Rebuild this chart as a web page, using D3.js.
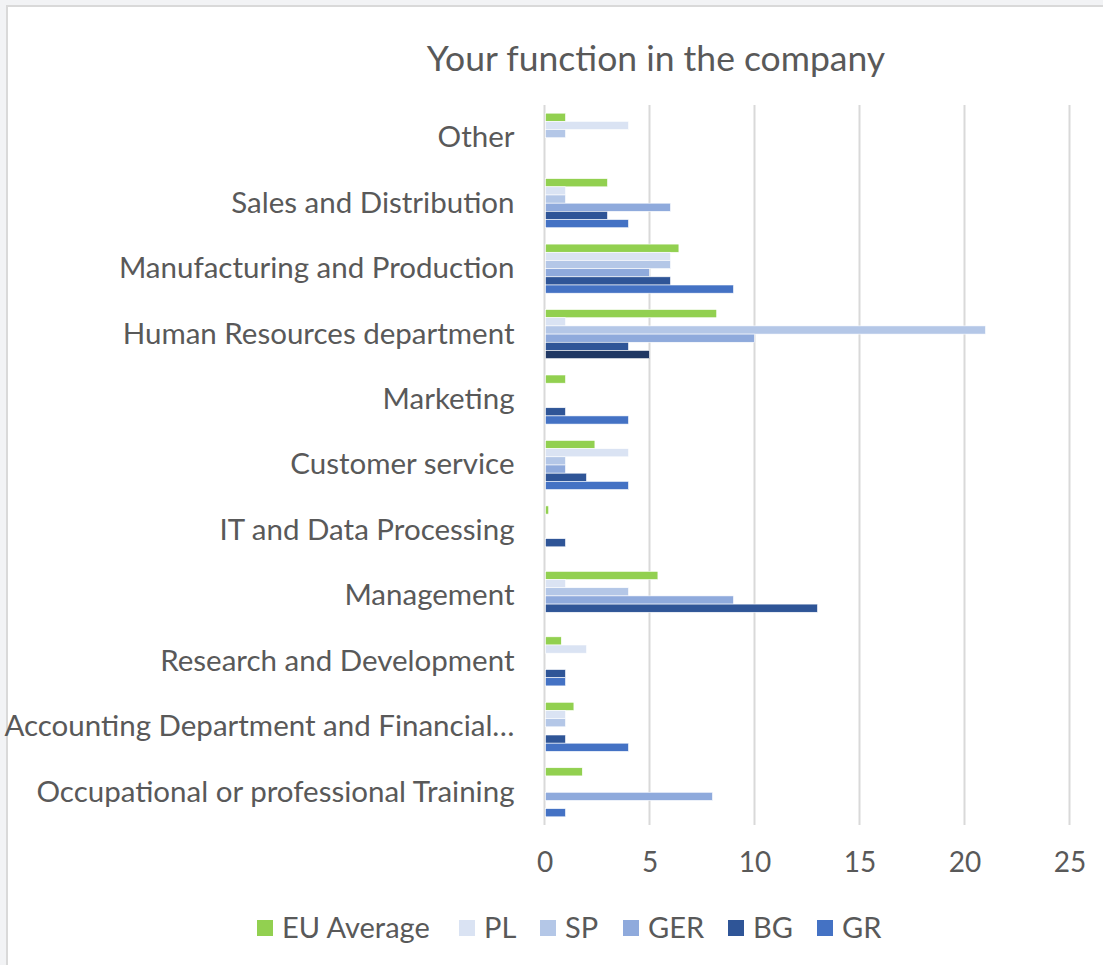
<!DOCTYPE html>
<html><head><meta charset="utf-8">
<script src="https://cdn.jsdelivr.net/npm/d3@7"></script>
<style>
html,body{margin:0;padding:0;background:#f2f3f5;}
svg{display:block;}
text{font-family:Lato,"Open Sans",sans-serif;fill:#595959;}
</style></head>
<body>
<svg id="chart" width="1103" height="965"></svg>
<script>
const categories = ["Other","Sales and Distribution","Manufacturing and Production","Human Resources department","Marketing","Customer service","IT and Data Processing","Management","Research and Development","Accounting Department and Financial…","Occupational or professional Training"];
const seriesNames = ["EU Average","PL","SP","GER","BG","GR"];
const euAverage = [1,3,6.4,8.2,1,2.4,0.2,5.4,0.8,1.4,1.8];
const pl  = [4,1,6,1,0,4,0,1,2,1,0];
const sp  = [1,1,6,21,0,1,0,4,0,1,0];
const ger = [0,6,5,10,0,1,0,9,0,0,8];
const bg  = [0,3,6,4,1,2,1,13,1,1,0];
const gr  = [0,4,9,5,4,4,0,0,1,4,1];
const xTicks = [0,5,10,15,20,25];
const colors = ["#92d050","#dae3f3","#b4c7e7","#8faadc","#2f5597","#4472c4"];

const seriesValues = [euAverage,pl,sp,ger,bg,gr];
const svg = d3.select("#chart");

svg.append("rect").attr("x",7).attr("y",6).attr("width",1110).attr("height",980)
  .attr("fill","#fff").attr("stroke","#d9d9d9").attr("stroke-width",2);

const x0 = 544.5, x1 = 1069.5, yTop = 105, yBot = 825;
const x = d3.scaleLinear().domain([0,25]).range([x0,x1]);
const y = d3.scaleBand().domain(categories).range([yTop,yBot]).paddingInner(0.25).paddingOuter(0.125);
const ys = d3.scaleBand().domain(seriesNames).range([0,y.bandwidth()]);

svg.append("g").selectAll("line").data(xTicks).join("line")
  .attr("x1",d=>x(d)).attr("x2",d=>x(d)).attr("y1",yTop).attr("y2",yBot)
  .attr("stroke","#d9d9d9").attr("stroke-width",2);

const rows = [];
categories.forEach((c,i)=>seriesNames.forEach((s,j)=>rows.push({c,s,j,v:seriesValues[j][i]})));
svg.append("g").selectAll("rect").data(rows.filter(d=>d.v>0)).join("rect")
  .attr("x",x(0)+1).attr("y",d=>y(d.c)+ys(d.s))
  .attr("width",d=>x(d.v)-x(0)-1).attr("height",ys.bandwidth())
  .attr("fill",d=>(d.c==="Human Resources department"&&d.s==="GR")?"#203864":colors[d.j])
  .attr("stroke","#fff").attr("stroke-width",0.6);

const xAxis = d3.axisBottom(x).tickValues(xTicks).tickSize(0).tickPadding(0);
const gx = svg.append("g").attr("transform",`translate(0,${yBot+27})`).call(xAxis);
gx.select(".domain").remove();
gx.selectAll("text").attr("font-size",28).attr("font-family","Lato, 'Open Sans', sans-serif").attr("fill","#595959").attr("dy","0.71em");

const yAxis = d3.axisLeft(y).tickSize(0).tickPadding(30);
const gy = svg.append("g").attr("transform",`translate(${x0},0)`).call(yAxis);
gy.select(".domain").remove();
gy.selectAll("text").attr("font-size",29.5).attr("font-family","Lato, 'Open Sans', sans-serif").attr("fill","#595959");

svg.append("text").attr("x",656).attr("y",71).attr("text-anchor","middle")
  .attr("font-size",35.5).text("Your function in the company");

const legendX = [257,459,540,623,728,817];
const lg = svg.append("g").selectAll("g").data(seriesNames).join("g")
  .attr("transform",(d,i)=>`translate(${legendX[i]},920)`);
lg.append("rect").attr("width",16).attr("height",16).attr("fill",(d,i)=>colors[i]);
lg.append("text").attr("x",25).attr("y",8).attr("dy","0.36em").attr("font-size",29).text(d=>d);
</script>
</body></html>
